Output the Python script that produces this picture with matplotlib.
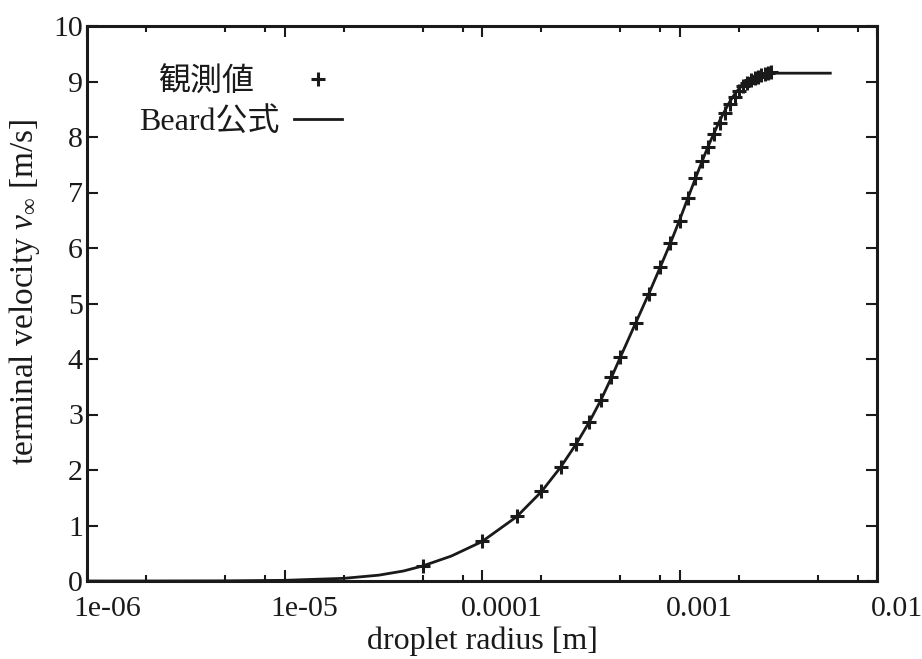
import matplotlib
matplotlib.use("Agg")
import matplotlib.pyplot as plt
import matplotlib.transforms as mtransforms
from matplotlib.ticker import LogLocator, FixedLocator, FixedFormatter, NullFormatter

plt.rcParams['font.family'] = ['Liberation Serif', 'Noto Sans CJK JP', 'DejaVu Sans']
plt.rcParams['mathtext.fontset'] = 'custom'
plt.rcParams['mathtext.rm'] = 'Liberation Serif'
plt.rcParams['mathtext.it'] = 'Liberation Serif:italic'

# observed data (radius [m], terminal velocity [m/s])
obs_r = [5.0e-5, 1.0e-4, 1.5e-4, 2.0e-4, 2.5e-4, 3.0e-4, 3.5e-4, 4.0e-4, 4.5e-4, 5.0e-4,
         6.0e-4, 7.0e-4, 8.0e-4, 9.0e-4, 1.0e-3, 1.1e-3, 1.2e-3, 1.3e-3, 1.4e-3, 1.5e-3,
         1.6e-3, 1.7e-3, 1.8e-3, 1.9e-3, 2.0e-3, 2.1e-3, 2.2e-3, 2.3e-3, 2.4e-3, 2.5e-3,
         2.6e-3, 2.7e-3, 2.8e-3, 2.9e-3]
obs_v = [0.27, 0.72, 1.17, 1.62, 2.06, 2.47, 2.87, 3.27, 3.67, 4.03,
         4.64, 5.17, 5.65, 6.09, 6.49, 6.90, 7.27, 7.57, 7.82, 8.06,
         8.26, 8.44, 8.60, 8.72, 8.83, 8.92, 8.98, 9.03, 9.07, 9.09,
         9.12, 9.14, 9.16, 9.17]

# Beard formula curve
beard_r = [1e-6, 2e-6, 5e-6, 1e-5, 2e-5, 3e-5, 4e-5, 5e-5, 7e-5, 1e-4, 1.5e-4, 2e-4,
           2.5e-4, 3e-4, 3.5e-4, 4e-4, 4.5e-4, 5e-4, 6e-4, 7e-4, 8e-4, 9e-4, 1e-3,
           1.1e-3, 1.2e-3, 1.3e-3, 1.4e-3, 1.5e-3, 1.6e-3, 1.7e-3, 1.8e-3, 1.9e-3,
           2.0e-3, 2.2e-3, 2.4e-3, 2.6e-3, 2.9e-3, 5.8e-3]
beard_v = [0.0, 0.0005, 0.003, 0.012, 0.048, 0.105, 0.18, 0.27, 0.45, 0.71, 1.16, 1.61,
           2.05, 2.47, 2.87, 3.26, 3.65, 4.02, 4.65, 5.18, 5.66, 6.09, 6.50,
           6.89, 7.24, 7.56, 7.84, 8.08, 8.30, 8.48, 8.64, 8.77,
           8.87, 9.02, 9.10, 9.14, 9.15, 9.15]

x_ticks = [1e-6, 1e-5, 1e-4, 1e-3, 1e-2]
x_tick_labels = ['1e-06', '1e-05', '0.0001', '0.001', '0.01']
y_ticks = list(range(0, 11))

fig = plt.figure(figsize=(9.22, 6.59), dpi=100)
ax = fig.add_axes([87/922, 1-581/659, 790/922, 555/659])

ax.plot(obs_r, obs_v, linestyle='none', marker='+', color='#1a1a1a', markersize=10,
        markeredgewidth=2.2, label='観測値')
ax.plot(beard_r, beard_v, color='#1a1a1a', lw=2.0, label='Beard公式')

ax.set_xscale('log')
ax.set_xlim(1e-6, 1e-2)
ax.set_ylim(0, 10)
ax.xaxis.set_major_locator(FixedLocator(x_ticks))
ax.xaxis.set_major_formatter(FixedFormatter(x_tick_labels))
ax.xaxis.set_minor_locator(LogLocator(base=10, subs=[2, 5, 8], numticks=20))
ax.xaxis.set_minor_formatter(NullFormatter())
ax.set_yticks(y_ticks)

ax.tick_params(which='both', direction='in', top=True, right=True, labelsize=21.5,
               colors='#1a1a1a', width=1.5)
ax.tick_params(which='major', length=8)
ax.tick_params(axis='y', which='major', pad=3)
ax.tick_params(axis='x', which='major', pad=11)
ax.tick_params(which='minor', length=4)
for s in ax.spines.values():
    s.set_linewidth(2.2)
    s.set_color('#1a1a1a')

# shift x tick labels slightly to the right, as in the reference
offset = mtransforms.ScaledTranslation(0.20, 0, fig.dpi_scale_trans)
for lbl in ax.get_xticklabels():
    lbl.set_transform(lbl.get_transform() + offset)

ax.set_xlabel('droplet radius [m]', fontsize=23, color='#1a1a1a', labelpad=3)
ax.set_ylabel(r'terminal velocity $v_\infty$ [m/s]', fontsize=24, color='#1a1a1a')
ax.yaxis.set_label_coords(-0.057, 0.52)

leg = ax.legend(loc='upper left', bbox_to_anchor=(0.066, 0.925), markerfirst=False,
                frameon=False, fontsize=23, handlelength=1.5, handletextpad=0.45,
                labelspacing=0.3, borderpad=0, borderaxespad=0, numpoints=1)
texts = leg.get_texts()
for t in texts:
    t.set_color('#1a1a1a')
# the first label sits a little left of right-alignment in the reference
texts[0].set_x(-26)

fig.savefig('out.png', dpi=100)
